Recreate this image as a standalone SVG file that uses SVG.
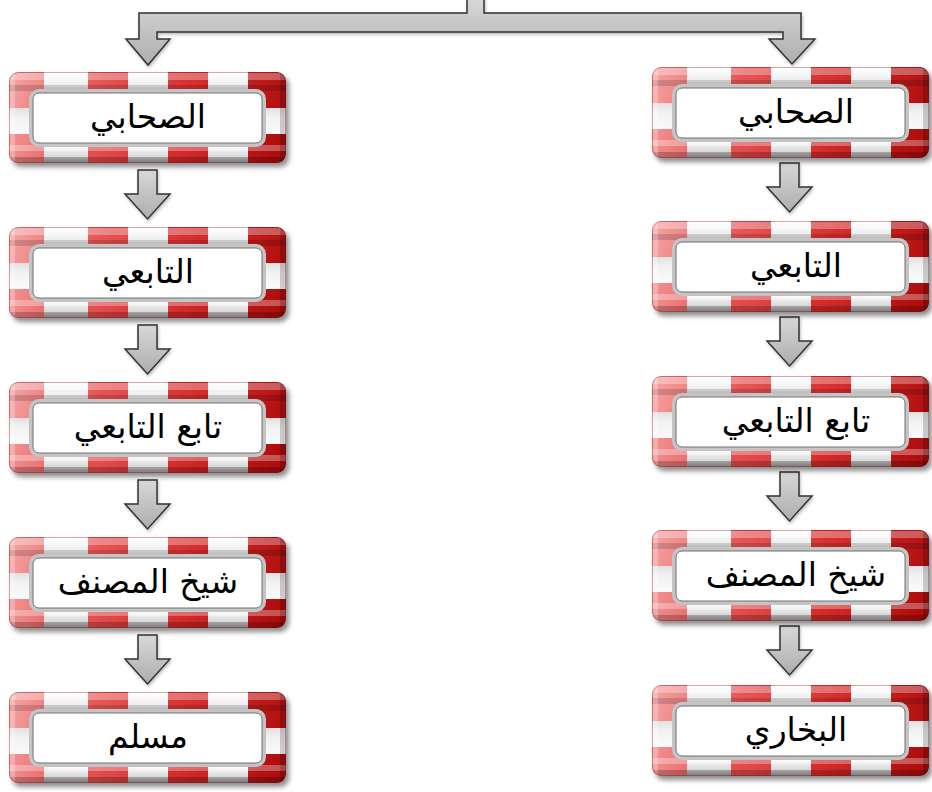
<svg xmlns="http://www.w3.org/2000/svg" xmlns:xlink="http://www.w3.org/1999/xlink" width="932" height="792" viewBox="0 0 932 792">
  <style>
    .label { font-family: 'DejaVu Sans', sans-serif; font-size: 33px; fill: #000; text-anchor: middle; }
    .arrow { fill: url(#arrowFill); stroke: #333; stroke-width: 1.5; stroke-linejoin: miter; filter: url(#arrowShadow); }
  </style>
  <defs>
    <!-- striped frame: red segments over a light band -->
    <linearGradient id="lightBand" x1="0" y1="0" x2="0" y2="1">
      <stop offset="0" stop-color="#ffffff"/>
      <stop offset="0.16" stop-color="#ececec"/>
      <stop offset="0.22" stop-color="#c4c4c4"/>
      <stop offset="0.5" stop-color="#f2f2f2"/>
      <stop offset="0.8" stop-color="#ffffff"/>
      <stop offset="0.93" stop-color="#d8d8d8"/>
      <stop offset="1" stop-color="#9a9a9a"/>
    </linearGradient>
    <linearGradient id="redFill" gradientUnits="userSpaceOnUse" x1="0" y1="0" x2="277" y2="91">
      <stop offset="0" stop-color="#f6a6a6"/>
      <stop offset="0.3" stop-color="#e65656"/>
      <stop offset="0.65" stop-color="#d42a2a"/>
      <stop offset="1" stop-color="#a80a0a"/>
    </linearGradient>
    <linearGradient id="arrowFill" x1="0" y1="0" x2="0" y2="1">
      <stop offset="0" stop-color="#d8d8d8"/>
      <stop offset="1" stop-color="#adadad"/>
    </linearGradient>
    <clipPath id="outerClip">
      <rect x="0" y="0" width="277" height="91" rx="9"/>
    </clipPath>
    <filter id="frameShadow" x="-10%" y="-10%" width="125%" height="135%">
      <feGaussianBlur in="SourceAlpha" stdDeviation="2.5"/>
      <feOffset dx="3" dy="4" result="b"/>
      <feFlood flood-color="#000" flood-opacity="0.45"/>
      <feComposite in2="b" operator="in"/>
      <feMerge><feMergeNode/><feMergeNode in="SourceGraphic"/></feMerge>
    </filter>
    <filter id="arrowShadow" x="-20%" y="-20%" width="150%" height="150%">
      <feGaussianBlur in="SourceAlpha" stdDeviation="1.5"/>
      <feOffset dx="1" dy="2" result="b"/>
      <feFlood flood-color="#000" flood-opacity="0.25"/>
      <feComposite in2="b" operator="in"/>
      <feMerge><feMergeNode/><feMergeNode in="SourceGraphic"/></feMerge>
    </filter>

    <g id="frame">
      <g filter="url(#frameShadow)">
        <rect x="0" y="0" width="277" height="91" rx="9" fill="url(#lightBand)"/>
      </g>
      <g clip-path="url(#outerClip)">
        <g fill="url(#redFill)">
          <rect x="0" y="0" width="35" height="36"/>
          <rect x="79" y="0" width="40" height="19"/>
          <rect x="159" y="0" width="40" height="19"/>
          <rect x="239" y="0" width="38" height="36"/>
          <rect x="0" y="62" width="35" height="29"/>
          <rect x="79" y="72" width="40" height="19"/>
          <rect x="159" y="72" width="40" height="19"/>
          <rect x="239" y="62" width="38" height="29"/>
        </g>
        <!-- gloss on the upper half of each band, shade on the lower half -->
        <rect x="0" y="1" width="277" height="7" fill="#fff" opacity="0.3"/>
        <rect x="0" y="13" width="277" height="6" fill="#000" opacity="0.15"/>
        <rect x="0" y="73" width="277" height="6" fill="#fff" opacity="0.3"/>
        <rect x="0" y="85" width="277" height="6" fill="#000" opacity="0.22"/>
        <rect x="1" y="0" width="5" height="91" fill="#fff" opacity="0.25"/>
        <rect x="271" y="0" width="6" height="91" fill="#000" opacity="0.18"/>
      </g>
      <rect x="0.5" y="0.5" width="276" height="90" rx="9" fill="none" stroke="#7a1010" stroke-opacity="0.35"/>
      <!-- bevelled inner window -->
      <rect x="22" y="19" width="233" height="54" rx="8" fill="#fff" stroke="#c4c4c4" stroke-width="4"/>
      <rect x="24" y="21" width="229" height="50" rx="6" fill="#fff" stroke="#707070" stroke-width="1"/>
    </g>
  </defs>

  <rect width="932" height="792" fill="#fff"/>

  <!-- connectors -->
  <g id="connectors">
    <path class="arrow" d="M467,-2 V13 H139 V39 H126 L148,65 L170,39 H157 V32 H783 V39 H769 L792,64 L815,39 H801 V13 H484 V-2 Z"/>
    <path class="arrow" d="M138,170 H157 V194 H170 L147.5,219 L125,194 H138 Z"/>
    <path class="arrow" d="M138,325 H157 V349 H170 L147.5,374 L125,349 H138 Z"/>
    <path class="arrow" d="M138,480 H157 V504 H170 L147.5,529 L125,504 H138 Z"/>
    <path class="arrow" d="M138,635 H157 V659 H170 L147.5,684 L125,659 H138 Z"/>
    <path class="arrow" d="M780,163 H799 V187 H812 L789.5,212 L767,187 H780 Z"/>
    <path class="arrow" d="M780,317 H799 V341 H812 L789.5,366 L767,341 H780 Z"/>
    <path class="arrow" d="M780,472 H799 V496 H812 L789.5,521 L767,496 H780 Z"/>
    <path class="arrow" d="M780,626 H799 V650 H812 L789.5,675 L767,650 H780 Z"/>
  </g>

  <!-- left chain -->
  <g id="left-sahabi" transform="translate(9,72)">
    <use href="#frame" xlink:href="#frame"/>
    <text class="label" x="139" y="56">الصحابي</text>
  </g>
  <g id="left-tabii" transform="translate(9,227)">
    <use href="#frame" xlink:href="#frame"/>
    <text class="label" x="139" y="56">التابعي</text>
  </g>
  <g id="left-tabi-tabii" transform="translate(9,382)">
    <use href="#frame" xlink:href="#frame"/>
    <text class="label" x="139" y="56">تابع التابعي</text>
  </g>
  <g id="left-shaykh" transform="translate(9,537)">
    <use href="#frame" xlink:href="#frame"/>
    <text class="label" x="139" y="56">شيخ المصنف</text>
  </g>
  <g id="left-muslim" transform="translate(9,692)">
    <use href="#frame" xlink:href="#frame"/>
    <text class="label" x="139" y="56">مسلم</text>
  </g>

  <!-- right chain -->
  <g id="right-sahabi" transform="translate(652,67)">
    <use href="#frame" xlink:href="#frame"/>
    <text class="label" x="144" y="56">الصحابي</text>
  </g>
  <g id="right-tabii" transform="translate(652,221)">
    <use href="#frame" xlink:href="#frame"/>
    <text class="label" x="144" y="56">التابعي</text>
  </g>
  <g id="right-tabi-tabii" transform="translate(652,376)">
    <use href="#frame" xlink:href="#frame"/>
    <text class="label" x="144" y="56">تابع التابعي</text>
  </g>
  <g id="right-shaykh" transform="translate(652,530)">
    <use href="#frame" xlink:href="#frame"/>
    <text class="label" x="144" y="56">شيخ المصنف</text>
  </g>
  <g id="right-bukhari" transform="translate(652,685)">
    <use href="#frame" xlink:href="#frame"/>
    <text class="label" x="144" y="56">البخاري</text>
  </g>
</svg>
